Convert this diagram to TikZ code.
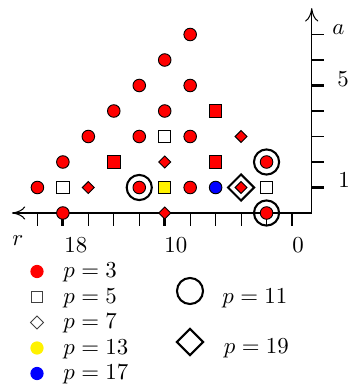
\documentclass[tikz,border=0pt]{standalone}
\usetikzlibrary{shapes.geometric,arrows.meta}
\begin{document}
\begin{tikzpicture}[x=0.4375pt,y=-0.4375pt,
  rc/.style={circle, draw=black, line width=0.4pt, fill=red, inner sep=0pt, minimum size=5.5pt},
  bc/.style={rc, fill=blue},
  rsq/.style={rectangle, draw=black, line width=0.4pt, fill=red, inner sep=0pt, minimum size=5.4pt},
  wsq/.style={rsq, fill=white},
  ysq/.style={rsq, fill=yellow},
  rdm/.style={diamond, draw=black, line width=0.4pt, fill=red, inner sep=0pt, minimum size=5.4pt},
  ringmark/.style={circle, draw=black, line width=0.9pt, inner sep=0pt, minimum size=11pt},
  bigdm/.style={diamond, draw=black, line width=0.9pt, inner sep=0pt, minimum size=11.8pt},
  legdot/.style={circle, inner sep=0pt, minimum size=5.8pt},
  legsq/.style={rectangle, draw=black!75, fill=white, line width=0.4pt, inner sep=0pt, minimum size=4.8pt},
  legdm/.style={diamond, draw=black!75, fill=white, line width=0.4pt, inner sep=0pt, minimum size=5.8pt},
  legring/.style={circle, draw=black, line width=0.9pt, inner sep=0pt, minimum size=11.4pt},
  legbigdm/.style={diamond, draw=black, line width=0.9pt, inner sep=0pt, minimum size=11.8pt},
  lbl/.style={inner sep=0pt, anchor=base west},
  axisline/.style={line width=0.45pt, {To[length=5.8pt,width=5.8pt]}-{To[length=5.8pt,width=5.8pt]}},
  thintick/.style={line width=0.45pt},
  thicktick/.style={line width=1.3pt}
]
\useasboundingbox (0,0) rectangle (353,384);
\begin{scope}[shift={(292,213)}, x=-5.569pt, y=11.156pt]
  \coordinate (O) at (-1.55,0);
  \coordinate (xt) at (22,0);
  \coordinate (yt) at (-1.55,8.03);
  % ticks
  \foreach \r in {2,4,6,8,12,14,16,20}
    \draw[thintick] (\r,0) -- ++(0,-5.6pt);
  \foreach \r in {0,10,18}
    \draw[thicktick] (\r,0) -- ++(0,-5.6pt);
  \foreach \a in {2,3,4,6,7}
    \draw[thintick] (-1.55,\a) -- ++(5.4pt,0);
  \foreach \a in {1,5}
    \draw[thicktick] (-1.55,\a) -- ++(5.4pt,0);
  \draw[axisline] (xt) -- (O) -- (yt);
  % rings
  \foreach \r/\a [count=\i] in {2/2, 12/1, 2/0}
    \node[ringmark] (ring\i) at (\r,\a) {};
  \node[bigdm] (bigd1) at (4,1) {};
  % markers
  \foreach \r/\a [count=\i] in {8/7, 10/6, 12/5, 8/5, 14/4, 10/4, 16/3, 12/3, 8/3, 18/2, 2/2, 20/1, 12/1, 8/1, 18/0, 2/0}
    \node[rc] (c\i) at (\r,\a) {};
  \node[bc] (b1) at (6,1) {};
  \foreach \r/\a [count=\i] in {6/4, 14/2, 6/2}
    \node[rsq] (rs\i) at (\r,\a) {};
  \foreach \r/\a [count=\i] in {10/3, 18/1, 2/1}
    \node[wsq] (ws\i) at (\r,\a) {};
  \node[ysq] (ys1) at (10,1) {};
  \foreach \r/\a [count=\i] in {4/3, 10/2, 16/1, 4/1, 10/0}
    \node[rdm] (rd\i) at (\r,\a) {};
\end{scope}
% axis labels
\node[lbl] (la) at (332,34.5) {$a$};
\node[lbl] (l5) at (337,86.5) {$5$};
\node[lbl] (l1) at (338,187.5) {$1$};
\node[lbl] (lr) at (12,245) {$r$};
\node[lbl] (l18) at (64,252) {$18$};
\node[lbl] (l10) at (164,252) {$10$};
\node[lbl] (l0) at (292,252) {$0$};
% legend
\node[legdot, fill=red] (k1) at (37,271.5) {};
\node[legsq] (k2) at (37,297) {};
\node[legdm] (k3) at (37,322.5) {};
\node[legdot, fill=yellow] (k4) at (37,348) {};
\node[legdot, fill=blue] (k5) at (37,373.5) {};
\node[lbl] (t1) at (63,277.3) {$p=3$};
\node[lbl] (t2) at (63,303.3) {$p=5$};
\node[lbl] (t3) at (63,328.3) {$p=7$};
\node[lbl] (t4) at (63,354.3) {$p=13$};
\node[lbl] (t5) at (63,379.3) {$p=17$};
\node[legring] (k6) at (190,291) {};
\node[legbigdm] (k7) at (190,342) {};
\node[lbl] (t6) at (222,303.3) {$p=11$};
\node[lbl] (t7) at (223.5,353.3) {$p=19$};
\end{tikzpicture}
\end{document}
